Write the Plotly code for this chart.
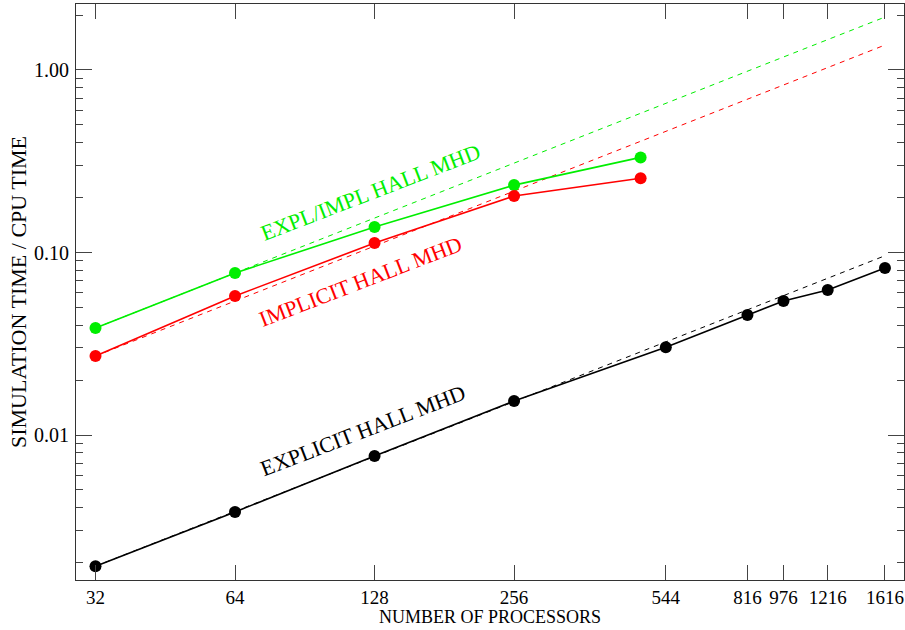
import plotly.graph_objects as go

# ---- data ----
procs_explicit = [32, 64, 128, 256, 544, 816, 976, 1216, 1616]
time_explicit = [0.00191, 0.00379, 0.00767, 0.01535, 0.0303, 0.0455, 0.0542, 0.0623, 0.0822]

procs_implicit = [32, 64, 128, 256, 480]
time_implicit = [0.0271, 0.0578, 0.1127, 0.204, 0.255]

procs_explimpl = [32, 64, 128, 256, 480]
time_explimpl = [0.0386, 0.0772, 0.138, 0.234, 0.332]

# ideal-scaling reference lines (end points)
ideal_procs = [32, 1616]
ideal_explicit = [0.00191, 0.096]
ideal_implicit = [0.0271, 1.37]
ideal_explimpl = [0.0386, 1.95]

x_tickvals = [32, 64, 128, 256, 544, 816, 976, 1216, 1616]
x_ticktext = ["32", "64", "128", "256", "544", "816", "976", "1216", "1616"]
y_tickvals = [1.0, 0.1, 0.01]
y_ticktext = ["1.00", "0.10", "0.01"]

BLACK = "#000000"
RED = "#ff0000"
GREEN = "#00ee00"
FONT = "Liberation Serif, Times New Roman, serif"

fig = go.Figure()

for xs, ys, c in [(ideal_procs, ideal_explimpl, GREEN),
                  (ideal_procs, ideal_implicit, RED),
                  (ideal_procs, ideal_explicit, BLACK)]:
    fig.add_trace(go.Scatter(x=xs, y=ys, mode="lines",
                             line=dict(color=c, width=1, dash="5px,5px"),
                             hoverinfo="skip", showlegend=False))

for xs, ys, c in [(procs_explimpl, time_explimpl, GREEN),
                  (procs_implicit, time_implicit, RED),
                  (procs_explicit, time_explicit, BLACK)]:
    fig.add_trace(go.Scatter(x=xs, y=ys, mode="lines+markers",
                             line=dict(color=c, width=1.6),
                             marker=dict(color=c, size=12),
                             showlegend=False))

minor_y = [m * 10.0 ** e for e in range(-3, 1) for m in range(2, 10)]

axis_common = dict(
    showgrid=False, zeroline=False, showline=True, linecolor="#333333",
    linewidth=1.2, mirror="ticks", ticks="inside", tickcolor="#444444",
    tickwidth=1.2,
)

fig.update_layout(
    width=905, height=630,
    margin=dict(l=76, r=1, t=4, b=50),
    paper_bgcolor="white", plot_bgcolor="white",
    font=dict(family=FONT, color="black"),
    xaxis=dict(type="log", range=[1.4631, 3.2495], tickmode="array",
               tickvals=x_tickvals, ticktext=x_ticktext, ticklen=15,
               ticklabelstandoff=0,
               tickfont=dict(family=FONT, size=19, color="black"),
               **axis_common),
    yaxis=dict(type="log", range=[-2.7945, 0.3616], tickmode="array",
               tickvals=y_tickvals, ticktext=y_ticktext, ticklen=16,
               ticklabelstandoff=2,
               tickfont=dict(family=FONT, size=20, color="black"),
               minor=dict(ticks="inside", ticklen=7, tickcolor="#444444",
                          tickwidth=1.2, tickmode="array", tickvals=minor_y,
                          showgrid=False),
               **axis_common),
)

annotations = [
    dict(text="NUMBER OF PROCESSORS", xref="paper", yref="paper",
         x=0.5, y=-0.0851, xanchor="center", yanchor="bottom",
         font=dict(family=FONT, size=18, color="black"), showarrow=False),
    dict(text="SIMULATION TIME / CPU TIME", xref="paper", yref="paper",
         x=-0.0700, y=0.5, xanchor="center", yanchor="middle", textangle=-90,
         font=dict(family=FONT, size=22, color="black"), showarrow=False),
    dict(text="EXPLICIT HALL MHD", xref="x", yref="y", x=2.0823, y=-1.973,
         xanchor="center", yanchor="middle", textangle=-21,
         font=dict(family=FONT, size=22, color=BLACK), showarrow=False),
    dict(text="IMPLICIT HALL MHD", xref="x", yref="y", x=2.0769, y=-1.159,
         xanchor="center", yanchor="middle", textangle=-21,
         font=dict(family=FONT, size=22, color=RED), showarrow=False),
    dict(text="EXPL/IMPL HALL MHD", xref="x", yref="y", x=2.0974, y=-0.671,
         xanchor="center", yanchor="middle", textangle=-21,
         font=dict(family=FONT, size=22, color=GREEN), showarrow=False),
]
fig.update_layout(annotations=annotations)

fig.write_html("out.html")
